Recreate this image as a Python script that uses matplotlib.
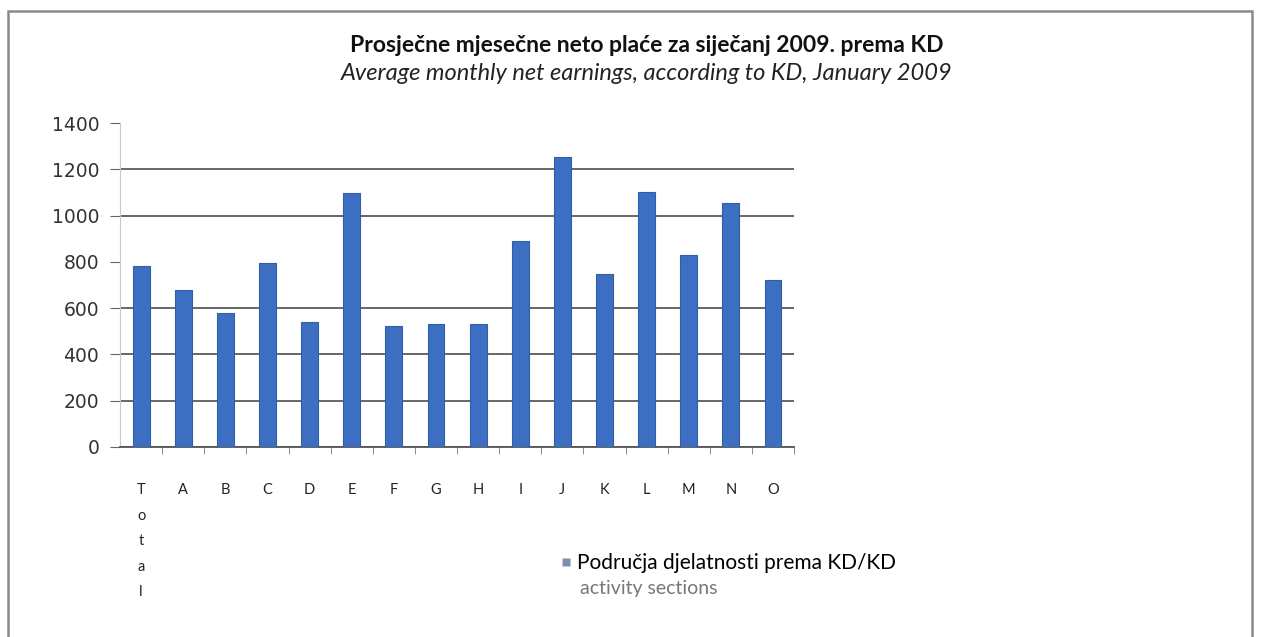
import matplotlib.pyplot as plt
from matplotlib.patches import Rectangle
from matplotlib.lines import Line2D

# Podaci
kategorije = ['Total', 'A', 'B', 'C', 'D', 'E', 'F', 'G', 'H', 'I', 'J', 'K', 'L', 'M', 'N', 'O']
place = [780, 678, 579, 795, 540, 1097, 523, 531, 531, 888, 1253, 747, 1104, 830, 1054, 721]
y_ticks = [0, 200, 400, 600, 800, 1000, 1200, 1400]

naslov = 'Prosječne mjesečne neto plaće za siječanj 2009. prema KD'
podnaslov = 'Average monthly net earnings, according to KD, January 2009'
legenda_1 = 'Područja djelatnosti prema KD/KD'
legenda_2 = 'activity sections'

plt.rcParams['font.family'] = ['Lato', 'DejaVu Sans']

fig = plt.figure(figsize=(12.61, 6.37), dpi=100)
ax = fig.add_axes([0.0952, 0.2983, 0.5345, 0.5086])

boja = '#3c6fc2'
x = list(range(len(kategorije)))
ax.bar(x, place, width=0.4, color=boja, edgecolor='#2f5ea6', linewidth=0.8, zorder=3)

ax.set_xlim(-0.5, len(kategorije) - 0.5)
ax.set_ylim(0, 1400)
ax.set_yticks(y_ticks)
ax.set_yticklabels([str(v) for v in y_ticks], fontsize=13.5, color='#333333',
                   family=['DejaVu Sans'])

# oznake na osi x - "Total" okomito slovo po slovo
oznake = ['\n'.join(k) if len(k) > 1 else k for k in kategorije]
ax.set_xticks(x)
ax.set_xticklabels(oznake, fontsize=10.5, linespacing=2.05, va='top', color='#222222')
ax.tick_params(axis='x', length=0, pad=26)
ax.set_xticks([i + 0.5 for i in x], minor=True)
ax.tick_params(axis='x', which='minor', length=5, color='#777777', direction='out')
ax.tick_params(axis='y', length=7, color='#666666', pad=8)

ax.grid(True, axis='y', color='#5a5a5a', linewidth=1.3, zorder=1)
for v, gl in zip(y_ticks, ax.get_ygridlines()):
    if v in (800, 1400):
        gl.set_visible(False)

ax.spines['top'].set_visible(False)
ax.spines['right'].set_visible(False)
ax.spines['left'].set_color('#c8c8c8')
ax.spines['bottom'].set_color('#555555')
ax.spines['bottom'].set_linewidth(1.3)

fig.text(0.513, 0.929, naslov, ha='center', va='center', fontsize=16.5, fontweight='bold', color='#111111')
fig.text(0.513, 0.884, podnaslov, ha='center', va='center', fontsize=17, style='italic', color='#222222')

# legenda
handle = Line2D([], [], marker='s', color='none', markerfacecolor='#7f8fa8', markeredgecolor='none', markersize=6)
fig.legend([handle], [legenda_1], loc='center left', bbox_to_anchor=(0.438, 0.116),
           frameon=False, fontsize=15, handlelength=0.5, handletextpad=0.3, borderaxespad=0)
fig.text(0.460, 0.076, legenda_2, ha='left', va='center', fontsize=14, color='#777777')

# okvir grafikona
fig.patches.append(Rectangle((0.0063, -0.05), 0.9865, 1.033, transform=fig.transFigure,
                             fill=False, edgecolor='#8a8a8a', linewidth=1.8))

fig.savefig('out.png', dpi=100)
